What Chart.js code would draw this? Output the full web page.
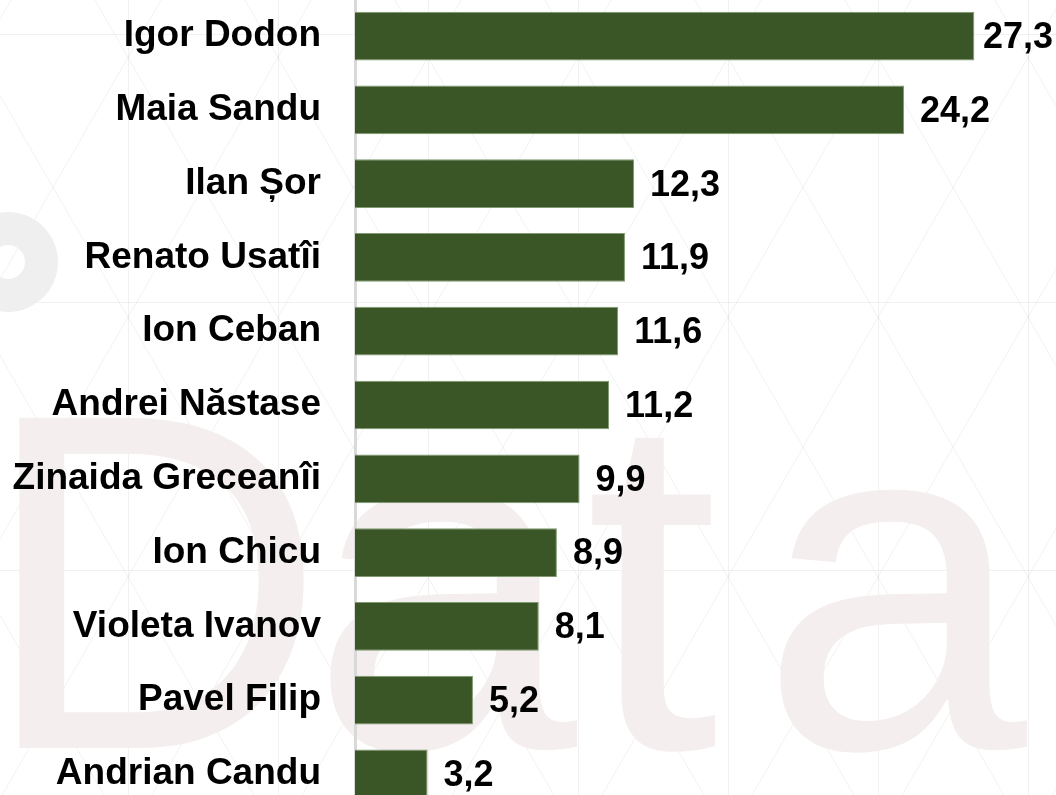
<!DOCTYPE html>
<html>
<head>
<meta charset="utf-8">
<script src="https://cdn.jsdelivr.net/npm/chart.js@4.4.1/dist/chart.umd.min.js"></script>
<style>
  html, body { margin: 0; padding: 0; width: 1056px; height: 795px; overflow: hidden; background: #ffffff; }
  #wrap { position: absolute; left: 0; top: -57px; width: 1056px; height: 924px; }
</style>
</head>
<body>
<div id="wrap"><canvas id="c"></canvas></div>
<script>
const categories = [
  "Igor Dodon", "Maia Sandu", "Ilan Șor", "Renato Usatîi", "Ion Ceban",
  "Andrei Năstase", "Zinaida Greceanîi", "Ion Chicu", "Violeta Ivanov",
  "Pavel Filip", "Andrian Candu"
];
const values = [27.3, 24.2, 12.3, 11.9, 11.6, 11.2, 9.9, 8.9, 8.1, 5.2, 3.2];
const watermarkLetters = ["D", "a", "t", "a"];

const FONT = '"Liberation Sans", Arial, Helvetica, sans-serif';
const OFFSET_Y = 57; // canvas is shifted up by this many pixels

const backgroundPlugin = {
  id: 'bg',
  beforeDraw(chart) {
    const ctx = chart.ctx;
    const W = chart.width, H = chart.height;
    ctx.save();
    ctx.fillStyle = '#ffffff';
    ctx.fillRect(0, 0, W, H);
    ctx.translate(0, OFFSET_Y);
    // faint lattice
    ctx.strokeStyle = 'rgba(0,0,0,0.055)';
    ctx.lineWidth = 1;
    ctx.beginPath();
    const PH = 795;
    for (let x = 128 - 150; x < W + 150; x += 150) {
      ctx.moveTo(x + 0.5, 0); ctx.lineTo(x + 0.5, PH);
    }
    const s = Math.sqrt(3);
    for (let k = -12; k < 20; k++) {
      const x0 = 653 + 150 * k, y0 = 707;
      ctx.moveTo(x0 - y0 / s, 0); ctx.lineTo(x0 + (PH - y0) / s, PH);
      ctx.moveTo(x0 + y0 / s, 0); ctx.lineTo(x0 - (PH - y0) / s, PH);
    }
    [34, 302, 570].forEach(y => { ctx.moveTo(0, y + 0.5); ctx.lineTo(W, y + 0.5); });
    ctx.stroke();
    // watermark ring
    ctx.fillStyle = '#efefef';
    ctx.beginPath();
    ctx.arc(8, 262, 50, 0, Math.PI * 2);
    ctx.arc(8, 262, 17, 0, Math.PI * 2, true);
    ctx.fill();
    // watermark letters
    ctx.fillStyle = '#f5eeee';
    ctx.font = '480px ' + FONT;
    ctx.textBaseline = 'alphabetic';
    const xs = [-20, 310, 585, 760];
    watermarkLetters.forEach((l, i) => ctx.fillText(l, xs[i], 748));
    ctx.restore();
  }
};

const valueLabels = {
  id: 'valueLabels',
  afterDatasetsDraw(chart) {
    const ctx = chart.ctx;
    const meta = chart.getDatasetMeta(0);
    ctx.save();
    ctx.font = 'bold 36px ' + FONT;
    ctx.fillStyle = '#000000';
    ctx.textAlign = 'left';
    ctx.textBaseline = 'middle';
    meta.data.forEach((bar, i) => {
      const txt = values[i].toFixed(1).replace('.', ',');
      const w = ctx.measureText(txt).width;
      let x = bar.x + 16;
      if (x + w > chart.width - 3) x = chart.width - 3 - w;
      ctx.fillText(txt, x, bar.y + 2);
    });
    ctx.restore();
  }
};

new Chart(document.getElementById('c'), {
  type: 'bar',
  data: {
    labels: categories,
    datasets: [{
      data: values,
      backgroundColor: '#3b5626',
      borderColor: '#7f9a70',
      borderWidth: 1,
      barPercentage: 0.66,
      categoryPercentage: 1.0
    }]
  },
  options: {
    indexAxis: 'y',
    responsive: true,
    maintainAspectRatio: false,
    devicePixelRatio: 1,
    animation: false,
    layout: { padding: 0 },
    plugins: { legend: { display: false }, tooltip: { enabled: false } },
    scales: {
      x: { display: false, min: 0, max: 30.9 },
      y: {
        afterFit(scale) { scale.width = 355; },
        grid: { display: false, drawTicks: false },
        border: { display: true, color: '#d9d9d9', width: 3 },
        ticks: {
          color: '#000000',
          padding: 34,
          font: { family: FONT, size: 37, weight: 'bold' }
        }
      }
    }
  },
  plugins: [backgroundPlugin, valueLabels]
});
</script>
</body>
</html>
